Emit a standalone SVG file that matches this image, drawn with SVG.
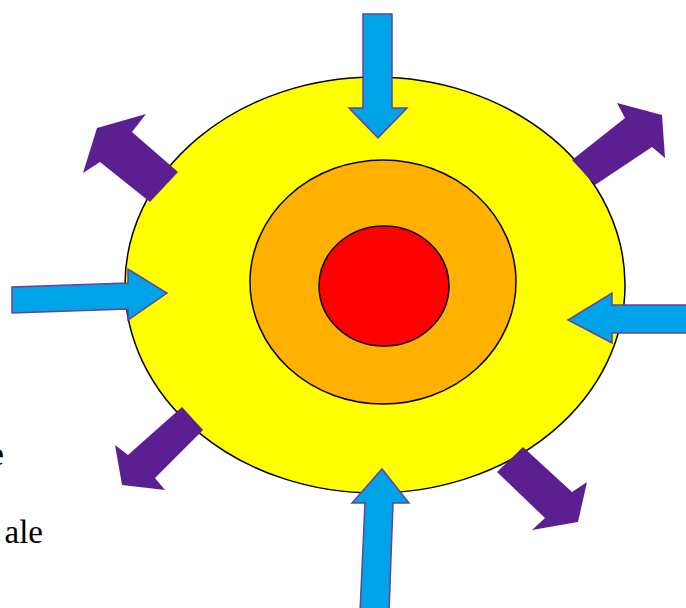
<svg xmlns="http://www.w3.org/2000/svg" width="686" height="608" viewBox="0 0 686 608">
<style>
.blue{fill:#00a2e8;stroke:#6a3fa0;stroke-width:1.5;stroke-linejoin:miter}
.purple{fill:#5b1f91;stroke:none}
.ell{stroke:#000;stroke-width:1.5}
.txt{font-family:"Liberation Serif","Times New Roman",serif;font-size:33px;fill:#000}
</style>
<rect width="686" height="608" fill="#fff"/>
<g id="outer"><ellipse class="ell" cx="375" cy="285" rx="250" ry="208" fill="#ffff00"/></g>
<g id="middle"><ellipse class="ell" cx="383" cy="282" rx="133" ry="122" fill="#ffb000"/></g>
<g id="core"><ellipse class="ell" cx="384" cy="286" rx="65" ry="60" fill="#ff0000"/></g>
<g id="connectors">
<polygon class="blue" points="363,14 392,14 392,108 407,108 378,138 349,108 363,108"/>
<polygon class="blue" points="12,287 128,283 128,269 167,293 128,320 128,309 12,313"/>
<polygon class="blue" points="690,305 612,305 612,293 568,320 612,343 612,333 690,333"/>
<polygon class="blue" points="360,612 365,503 352,503 382,469 409,503 393,503 389,612"/>
<polygon class="purple" points="178,172 132,132 146,114 97,128 83,173 100,162 150,202"/>
<polygon class="purple" points="572,160 625,118 617,103 662,115 665,158 652,147 595,185"/>
<polygon class="purple" points="182,407 203,430 155,478 165,490 122,485 115,445 128,455"/>
<polygon class="purple" points="523,447 497,472 545,518 532,530 578,522 587,482 572,492"/>
</g>
<text class="txt" x="4" y="465" text-anchor="end">e</text>
<text class="txt" x="43" y="543" text-anchor="end">ale</text>
</svg>
